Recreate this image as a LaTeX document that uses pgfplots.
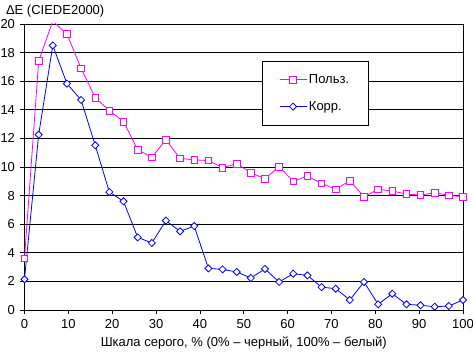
\documentclass[border=0pt]{standalone}
\usepackage{fontspec}
\setmainfont{Liberation Sans}
\usepackage{pgfplots}
\pgfplotsset{compat=1.18}
\definecolor{cpink}{RGB}{255,0,255}
\definecolor{cblue}{RGB}{0,0,255}
\begin{document}
\fontsize{13}{15}\selectfont
\begin{tikzpicture}[x=1pt,y=1pt]
\useasboundingbox (-24.5pt,-43pt) rectangle (448.5pt,310pt);
\begin{axis}[
  at={(0pt,0pt)}, anchor=origin,
  scale only axis, width=438.5pt, height=286pt,
  xmin=0, xmax=100, ymin=0, ymax=20,
  xtick={0,10,...,100}, ytick={0,2,...,20},
  ymajorgrids, grid style={black, line width=0.8pt},
  axis line style={black, line width=0.8pt},
  tick style={black, line width=0.8pt},
  tick align=outside, major tick length=4pt,
  xtick pos=bottom, ytick pos=left,
  /pgf/number format/assume math mode=true,
  ticklabel style={font=\fontsize{13}{15}\selectfont},
  xticklabel style={yshift=-1pt},
  yticklabel style={xshift=-1pt},
  xlabel={Шкала серого, \% (0\% – черный, 100\% – белый)},
  xlabel style={font=\fontsize{13}{15}\selectfont, yshift=1pt},
  title={ΔE (CIEDE2000)},
  title style={at={(rel axis cs:0,1)}, anchor=west, xshift=-23pt, yshift=7pt, font=\fontsize{13}{15}\selectfont},
  legend style={at={(rel axis cs:0.541,0.871)}, anchor=north west, draw=black, line width=0.8pt, fill=white,
    inner xsep=17pt, inner ysep=11pt, row sep=12pt, font=\fontsize{13}{15}\selectfont,
    cells={line width=0.8pt}},
  legend cell align=left,
  legend image code/.code={\draw[mark repeat=2,mark phase=2] plot coordinates {(0pt,0pt)(13.5pt,0pt)(27pt,0pt)};},
]
\addplot[cpink, line width=0.8pt, mark=square*, mark size=3.3pt, mark options={fill=white, line width=0.8pt}] coordinates {
(0,3.6)(3.23,17.4)(6.45,20.2)(9.68,19.3)(12.90,16.9)(16.13,14.85)(19.35,13.94)(22.58,13.17)
(25.81,11.2)(29.03,10.68)(32.26,11.9)(35.48,10.6)(38.71,10.5)(41.94,10.45)(45.16,9.95)(48.39,10.23)
(51.61,9.6)(54.84,9.18)(58.06,10.02)(61.29,9.0)(64.52,9.37)(67.74,8.86)(70.97,8.44)(74.19,9.04)
(77.42,7.92)(80.65,8.44)(83.87,8.32)(87.10,8.11)(90.32,8.04)(93.55,8.2)(96.77,8.02)(100,7.92)};
\addlegendentry{Польз.}
\addplot[cblue, line width=0.8pt, mark=square*, mark size=2.5pt, mark options={rotate=45, fill=white, line width=0.8pt}] coordinates {
(0,2.15)(3.23,12.26)(6.45,18.5)(9.68,15.83)(12.90,14.69)(16.13,11.52)(19.35,8.25)(22.58,7.6)
(25.81,5.08)(29.03,4.69)(32.26,6.25)(35.48,5.5)(38.71,5.87)(41.94,2.91)(45.16,2.84)(48.39,2.66)
(51.61,2.24)(54.84,2.87)(58.06,1.96)(61.29,2.54)(64.52,2.42)(67.74,1.6)(70.97,1.49)(74.19,0.7)
(77.42,1.96)(80.65,0.4)(83.87,1.14)(87.10,0.4)(90.32,0.33)(93.55,0.23)(96.77,0.28)(100,0.7)};
\addlegendentry{Корр.}
\end{axis}
\end{tikzpicture}
\end{document}
